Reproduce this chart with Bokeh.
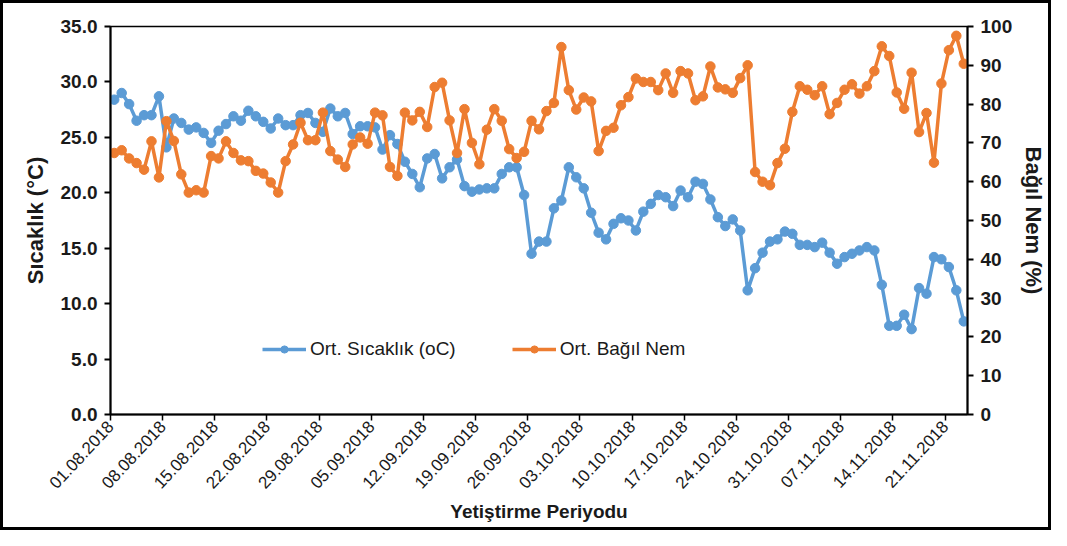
import math
import pandas as pd
from bokeh.plotting import figure
from bokeh.models import (Range1d, LinearAxis, FixedTicker, NumeralTickFormatter,
                          Legend, LegendItem, ColumnDataSource)
from bokeh.embed import file_html
from bokeh.resources import INLINE

# ---- data -----------------------------------------------------------------
dates = pd.date_range("2018-08-01", periods=115).strftime("%d.%m.%Y").tolist()

temp = [28.4, 29.0, 28.0, 26.5, 27.0, 27.0, 28.7, 24.1, 26.7, 26.3,
        25.7, 25.9, 25.4, 24.5, 25.6, 26.2, 26.9, 26.5, 27.4, 26.9,
        26.4, 25.8, 26.7, 26.1, 26.1, 27.0, 27.2, 26.3, 25.5, 27.6,
        26.9, 27.2, 25.3, 26.0, 26.0, 25.9, 23.9, 25.2, 24.4, 22.8,
        21.7, 20.5, 23.1, 23.5, 21.3, 22.3, 23.0, 20.6, 20.1, 20.3,
        20.4, 20.4, 21.7, 22.3, 22.3, 19.8, 14.5, 15.6, 15.6, 18.6,
        19.3, 22.3, 21.4, 20.4, 18.2, 16.4, 15.8, 17.2, 17.7, 17.5,
        16.6, 18.3, 19.0, 19.8, 19.6, 18.8, 20.2, 19.6, 21.0, 20.8,
        19.4, 17.8, 17.0, 17.6, 16.6, 11.2, 13.2, 14.6, 15.6, 15.8,
        16.5, 16.3, 15.3, 15.3, 15.1, 15.5, 14.6, 13.6, 14.2, 14.5,
        14.8, 15.1, 14.8, 11.7, 8.0, 8.0, 9.0, 7.7, 11.4, 10.9,
        14.2, 14.0, 13.3, 11.2, 8.4]

hum = [67.4, 68.1, 66.0, 64.8, 63.1, 70.4, 61.1, 75.6, 70.5, 61.9,
       57.2, 57.8, 57.2, 66.6, 66.0, 70.4, 67.4, 65.5, 65.3, 62.8,
       62.1, 59.8, 57.2, 65.3, 69.6, 75.2, 70.7, 70.7, 77.8, 67.9,
       65.7, 63.8, 69.6, 71.4, 69.8, 77.8, 77.1, 63.8, 61.5, 77.8,
       75.8, 78.0, 74.1, 84.4, 85.5, 75.8, 67.4, 78.7, 70.0, 64.5,
       73.4, 78.7, 75.7, 68.4, 66.1, 67.7, 75.7, 73.5, 78.2, 80.3,
       94.7, 83.6, 78.6, 81.7, 80.7, 67.9, 73.1, 73.9, 79.7, 81.8,
       86.6, 85.7, 85.7, 83.6, 87.9, 82.9, 88.5, 87.9, 81.0, 82.0,
       89.7, 84.3, 83.8, 82.9, 86.7, 90.0, 62.5, 60.0, 59.1, 64.8,
       68.5, 78.0, 84.6, 83.7, 82.3, 84.6, 77.4, 80.3, 83.7, 85.1,
       82.7, 84.6, 88.5, 94.9, 92.4, 83.0, 78.8, 88.1, 72.8, 77.7,
       64.9, 85.3, 93.9, 97.6, 90.4]

tick_labels = ["01.08.2018", "08.08.2018", "15.08.2018", "22.08.2018",
               "29.08.2018", "05.09.2018", "12.09.2018", "19.09.2018",
               "26.09.2018", "03.10.2018", "10.10.2018", "17.10.2018",
               "24.10.2018", "31.10.2018", "07.11.2018", "14.11.2018",
               "21.11.2018"]

temp_ticks = [0, 5, 10, 15, 20, 25, 30, 35]
hum_ticks = [0, 10, 20, 30, 40, 50, 60, 70, 80, 90, 100]

# ---- figure ---------------------------------------------------------------
FONT = "Liberation Sans"
BLUE = "#5B9BD5"
ORANGE = "#ED7D31"
TXT = "#1a1a1a"

n = len(dates)
xs = [i + 0.5 for i in range(n)]
src = ColumnDataSource(dict(x=xs, date=dates, temp=temp, hum=hum))

p = figure(width=1051, height=530, output_backend="svg", toolbar_location=None,
           x_range=Range1d(0, n), y_range=Range1d(0, 35),
           min_border_left=107, min_border_right=87, min_border_top=23,
           min_border_bottom=119)
p.extra_y_ranges = {"hum": Range1d(0, 100)}
p.xgrid.visible = False
p.ygrid.visible = False
p.outline_line_color = "black"
p.outline_line_width = 1.5
p.background_fill_color = "white"
p.border_fill_color = "white"
p.styles = {"border": "3px solid black", "box-sizing": "border-box"}

# left axis
ax = p.yaxis[0]
ax.ticker = FixedTicker(ticks=temp_ticks)
ax.formatter = NumeralTickFormatter(format="0.0")
ax.axis_label = "Sıcaklık (°C)"

# right axis
ax2 = LinearAxis(y_range_name="hum", ticker=FixedTicker(ticks=hum_ticks),
                 axis_label="Bağıl Nem (%)")
p.add_layout(ax2, "right")

for a in (ax, ax2):
    a.axis_line_color = "black"
    a.axis_line_width = 2
    a.major_tick_line_color = "black"
    a.major_tick_line_width = 2
    a.major_tick_out = 6
    a.major_tick_in = 0
    a.minor_tick_line_color = None
    a.major_label_text_font = FONT
    a.major_label_text_font_style = "bold"
    a.major_label_text_font_size = "19px"
    a.major_label_text_color = TXT
    a.axis_label_text_font = FONT
    a.axis_label_text_font_style = "bold"
    a.axis_label_text_font_size = "22px"
    a.axis_label_text_color = TXT
    a.major_label_standoff = 7
ax.axis_label_standoff = 10
ax2.axis_label_standoff = 6

# bottom axis
xa = p.xaxis[0]
tick_pos = [7 * k for k in range(len(tick_labels))]
xa.ticker = FixedTicker(ticks=tick_pos)
xa.major_label_overrides = {t: lab for t, lab in zip(tick_pos, tick_labels)}
xa.major_label_orientation = math.radians(47)
xa.axis_line_color = "black"
xa.axis_line_width = 2
xa.major_tick_line_color = "black"
xa.major_tick_line_width = 1.5
xa.major_tick_out = 6
xa.major_tick_in = 0
xa.minor_tick_line_color = None
xa.major_label_text_font = FONT
xa.major_label_text_font_size = "17px"
xa.major_label_text_color = TXT
xa.major_label_standoff = 3
xa.axis_label = "Yetiştirme Periyodu"
xa.axis_label_text_font = FONT
xa.axis_label_text_font_style = "bold"
xa.axis_label_text_font_size = "19px"
xa.axis_label_text_color = TXT
xa.axis_label_standoff = 4

# series
l1 = p.line("x", "temp", source=src, color=BLUE, line_width=3.5)
s1 = p.scatter("x", "temp", source=src, size=9.5, color=BLUE)
l2 = p.line("x", "hum", source=src, color=ORANGE, line_width=3.5, y_range_name="hum")
s2 = p.scatter("x", "hum", source=src, size=9.5, color=ORANGE, y_range_name="hum")

legend = Legend(items=[LegendItem(label="Ort. Sıcaklık (oC)", renderers=[l1, s1]),
                       LegendItem(label="Ort. Bağıl Nem", renderers=[l2, s2])],
                orientation="horizontal", location=(152, 54),
                glyph_width=44, glyph_height=18, label_standoff=4, spacing=56,
                padding=0, margin=0, border_line_color=None,
                background_fill_alpha=0,
                label_text_font=FONT, label_text_font_size="19px",
                label_text_color=TXT)
p.add_layout(legend, "center")

open("out.html", "w").write(file_html(p, INLINE))
